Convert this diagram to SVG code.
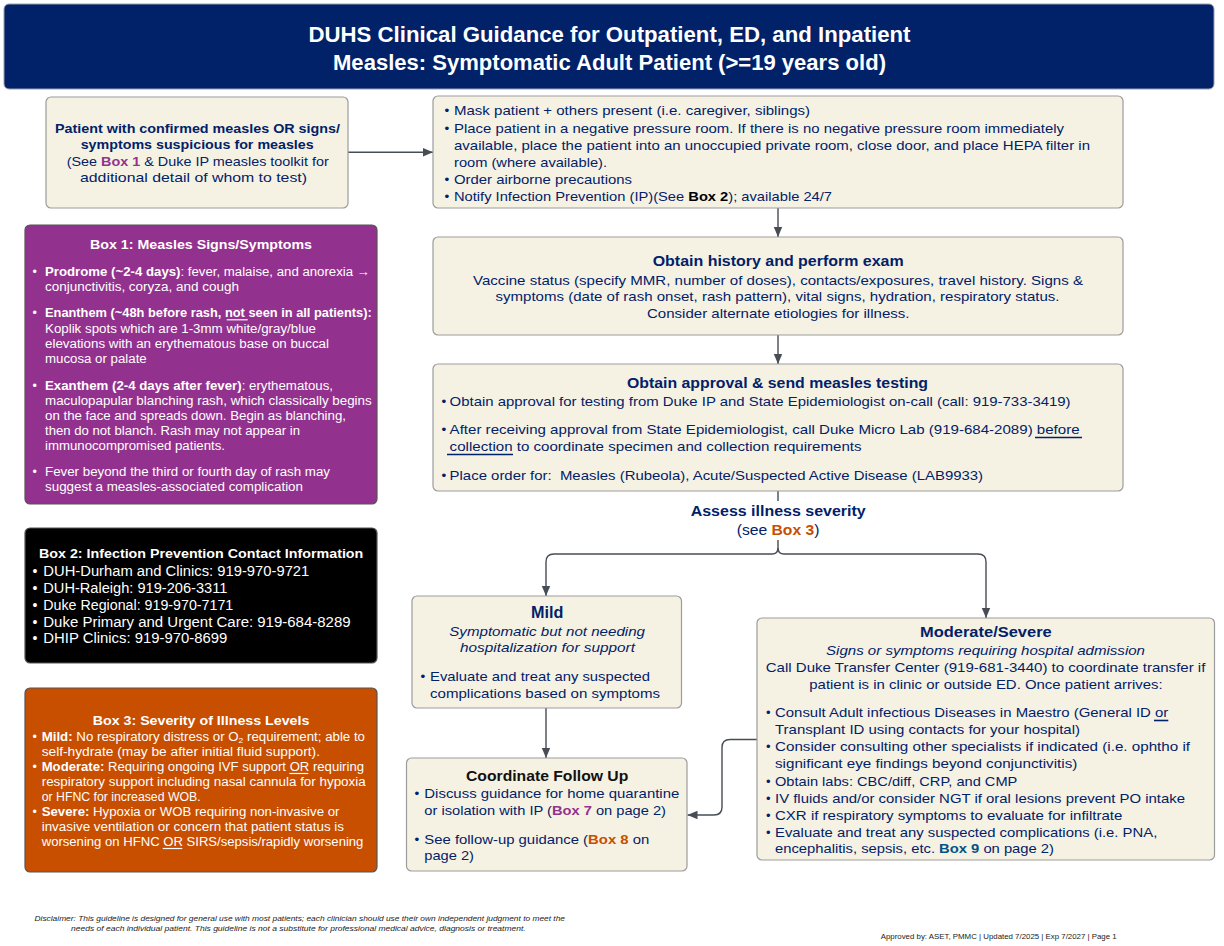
<svg xmlns="http://www.w3.org/2000/svg" width="1224" height="946" viewBox="0 0 1224 946">
<defs>
<style>
text{font-family:"Liberation Sans",Arial,sans-serif;fill:#012169;font-size:13.5px}
.b{font-weight:bold}
.i{font-style:italic}
.w{fill:#ffffff;font-size:12.5px}
.w2{fill:#ffffff;font-size:14px}
.wt{fill:#ffffff;font-size:13.5px;font-weight:bold}
.k{fill:#111111}
.pu{fill:#93328e;font-weight:bold}
.or{fill:#c84e00;font-weight:bold}
.bl{fill:#005587;font-weight:bold}
.bk{fill:#000000;font-weight:bold}
.m{font-size:13px}
.sm{font-size:7.3px;fill:#222222}
.cream{fill:#f6f2e3;stroke:#9c9c9c;stroke-width:1.2}
.dark{stroke:#555555;stroke-width:1.2}
.conn{fill:none;stroke:#474c55;stroke-width:1.4}
.ul{stroke:#012169;stroke-width:1.6}
.ulw{stroke:#ffffff;stroke-width:1.2}
</style>
<marker id="ah" viewBox="0 0 10 10" refX="10" refY="5" markerWidth="10" markerHeight="10" markerUnits="userSpaceOnUse" orient="auto"><path d="M0,0.8 L10,5 L0,9.2 z" fill="#474c55"/></marker>
</defs>
<rect x="0" y="0" width="1224" height="946" fill="#ffffff"/>

<g id="header">
<rect x="4" y="4" width="1210" height="85" rx="5" fill="#012169" stroke="#9aa0b0" stroke-width="1"/>
<text class="b" x="308.5" y="42" style="fill:#fff;font-size:22px" textLength="602" lengthAdjust="spacingAndGlyphs">DUHS Clinical Guidance for Outpatient, ED, and Inpatient</text>
<text class="b" x="333" y="69.5" style="fill:#fff;font-size:22px" textLength="553" lengthAdjust="spacingAndGlyphs">Measles: Symptomatic Adult Patient (&gt;=19 years old)</text>
</g>

<g id="connectors">
<path class="conn" d="M348,152.3 H433" marker-end="url(#ah)"/>
<path class="conn" d="M778,208 V237" marker-end="url(#ah)"/>
<path class="conn" d="M778,335 V364" marker-end="url(#ah)"/>
<path class="conn" d="M778,491 V501"/>
<path class="conn" d="M778,540 V548 Q778,554 772,554 H554 Q546,554 546,562 V596" marker-end="url(#ah)"/>
<path class="conn" d="M778,548 Q778,554 784,554 H978 Q986,554 986,562 V618" marker-end="url(#ah)"/>
<path class="conn" d="M546,708 V758" marker-end="url(#ah)"/>
<path class="conn" d="M757,739.5 H730 Q722,739.5 722,747.5 V807 Q722,815 714,815 H687.5" marker-end="url(#ah)"/>
</g>

<g id="start">
<rect x="46" y="97" width="302" height="111" rx="5" class="cream"/>
<text class="b" x="55" y="132.5" textLength="285" lengthAdjust="spacingAndGlyphs">Patient with confirmed measles OR signs/</text>
<text class="b" x="80.7" y="149" textLength="233" lengthAdjust="spacingAndGlyphs">symptoms suspicious for measles</text>
<text x="66.7" y="165.5" textLength="262" lengthAdjust="spacingAndGlyphs">(See <tspan class="pu">Box 1</tspan> &amp; Duke IP measles toolkit for</text>
<text x="80" y="182" textLength="227" lengthAdjust="spacingAndGlyphs">additional detail of whom to test)</text>
</g>

<g id="isolate">
<rect x="433" y="96" width="690" height="112" rx="5" class="cream"/>
<text x="444.5" y="115">•</text>
<text x="454" y="115" textLength="356" lengthAdjust="spacingAndGlyphs">Mask patient + others present (i.e. caregiver, siblings)</text>
<text x="444.5" y="132.5">•</text>
<text x="454" y="132.5" textLength="610" lengthAdjust="spacingAndGlyphs">Place patient in a negative pressure room. If there is no negative pressure room immediately</text>
<text x="454" y="149.5" textLength="636" lengthAdjust="spacingAndGlyphs">available, place the patient into an unoccupied private room, close door, and place HEPA filter in</text>
<text x="454" y="166.5" textLength="153" lengthAdjust="spacingAndGlyphs">room (where available).</text>
<text x="444.5" y="184">•</text>
<text x="454" y="184" textLength="178" lengthAdjust="spacingAndGlyphs">Order airborne precautions</text>
<text x="444.5" y="200.5">•</text>
<text x="454" y="200.5" textLength="378" lengthAdjust="spacingAndGlyphs">Notify Infection Prevention (IP)(See <tspan class="bk">Box 2</tspan>); available 24/7</text>
</g>

<g id="history">
<rect x="433" y="237" width="690" height="98" rx="5" class="cream"/>
<text class="b" x="652.7" y="266" style="font-size:15px" textLength="251" lengthAdjust="spacingAndGlyphs">Obtain history and perform exam</text>
<text x="473" y="284.5" textLength="610" lengthAdjust="spacingAndGlyphs">Vaccine status (specify MMR, number of doses), contacts/exposures, travel history. Signs &amp;</text>
<text x="495.5" y="301" textLength="564" lengthAdjust="spacingAndGlyphs">symptoms (date of rash onset, rash pattern), vital signs, hydration, respiratory status.</text>
<text x="647" y="317.5" textLength="262.5" lengthAdjust="spacingAndGlyphs">Consider alternate etiologies for illness.</text>
</g>

<g id="testing">
<rect x="433" y="364" width="690" height="127" rx="5" class="cream"/>
<text class="b" x="627" y="388" style="font-size:15px" textLength="301" lengthAdjust="spacingAndGlyphs">Obtain approval &amp; send measles testing</text>
<text x="441.5" y="406">•</text>
<text x="449.6" y="406" textLength="621" lengthAdjust="spacingAndGlyphs">Obtain approval for testing from Duke IP and State Epidemiologist on-call (call: 919-733-3419)</text>
<text x="441.5" y="434">•</text>
<text x="449.6" y="434" textLength="630" lengthAdjust="spacingAndGlyphs">After receiving approval from State Epidemiologist, call Duke Micro Lab (919-684-2089) before</text>
<text x="449.6" y="451" textLength="412" lengthAdjust="spacingAndGlyphs">collection to coordinate specimen and collection requirements</text>
<line class="ul" x1="1035" y1="437.5" x2="1082" y2="437.5"/>
<line class="ul" x1="447" y1="454.5" x2="513" y2="454.5"/>
<text x="441.5" y="479.5">•</text>
<text x="449.6" y="479.5" textLength="533.5" lengthAdjust="spacingAndGlyphs">Place order for:&#160; Measles (Rubeola), Acute/Suspected Active Disease (LAB9933)</text>
</g>

<g id="assess">
<text class="b" x="690.7" y="516" style="font-size:14.5px" textLength="175" lengthAdjust="spacingAndGlyphs">Assess illness severity</text>
<text x="736.7" y="535" style="font-size:14px" textLength="82.7" lengthAdjust="spacingAndGlyphs">(see <tspan class="or">Box 3</tspan>)</text>
</g>

<g id="box1">
<rect x="25" y="225" width="352" height="279" rx="5" fill="#93328e" class="dark"/>
<text class="wt" x="90" y="248.5" textLength="222" lengthAdjust="spacingAndGlyphs">Box 1: Measles Signs/Symptoms</text>
<text class="w" x="32.5" y="276">•</text>
<text class="w" x="45" y="276" textLength="325" lengthAdjust="spacingAndGlyphs"><tspan font-weight="bold">Prodrome (~2-4 days)</tspan>: fever, malaise, and anorexia →</text>
<text class="w" x="45" y="291" textLength="194" lengthAdjust="spacingAndGlyphs">conjunctivitis, coryza, and cough</text>
<text class="w" x="32.5" y="317">•</text>
<text class="w b" x="45" y="317" textLength="326.7" lengthAdjust="spacingAndGlyphs">Enanthem (~48h before rash, not seen in all patients):</text>
<line class="ulw" x1="226.7" y1="319.8" x2="247.7" y2="319.8"/>
<text class="w" x="45" y="332.5" textLength="271" lengthAdjust="spacingAndGlyphs">Koplik spots which are 1-3mm white/gray/blue</text>
<text class="w" x="45" y="347.5" textLength="284" lengthAdjust="spacingAndGlyphs">elevations with an erythematous base on buccal</text>
<text class="w" x="45" y="362.5" textLength="101.7" lengthAdjust="spacingAndGlyphs">mucosa or palate</text>
<text class="w" x="32.5" y="389.5">•</text>
<text class="w" x="45" y="389.5" textLength="288" lengthAdjust="spacingAndGlyphs"><tspan font-weight="bold">Exanthem (2-4 days after fever)</tspan>: erythematous,</text>
<text class="w" x="45" y="404.5" textLength="326.7" lengthAdjust="spacingAndGlyphs">maculopapular blanching rash, which classically begins</text>
<text class="w" x="45" y="419.5" textLength="301" lengthAdjust="spacingAndGlyphs">on the face and spreads down. Begin as blanching,</text>
<text class="w" x="45" y="434.5" textLength="255" lengthAdjust="spacingAndGlyphs">then do not blanch. Rash may not appear in</text>
<text class="w" x="45" y="450" textLength="180" lengthAdjust="spacingAndGlyphs">immunocompromised patients.</text>
<text class="w" x="32.5" y="476">•</text>
<text class="w" x="45" y="476" textLength="285" lengthAdjust="spacingAndGlyphs">Fever beyond the third or fourth day of rash may</text>
<text class="w" x="45" y="491" textLength="258" lengthAdjust="spacingAndGlyphs">suggest a measles-associated complication</text>
</g>

<g id="box2">
<rect x="25" y="528" width="352" height="135" rx="5" fill="#000000" class="dark"/>
<text class="wt" x="39" y="558" textLength="324.3" lengthAdjust="spacingAndGlyphs">Box 2: Infection Prevention Contact Information</text>
<text class="w2" x="32.5" y="575.5">•</text>
<text class="w2" x="43.3" y="575.5" textLength="266" lengthAdjust="spacingAndGlyphs">DUH-Durham and Clinics: 919-970-9721</text>
<text class="w2" x="32.5" y="593">•</text>
<text class="w2" x="43.3" y="593" textLength="184" lengthAdjust="spacingAndGlyphs">DUH-Raleigh: 919-206-3311</text>
<text class="w2" x="32.5" y="610">•</text>
<text class="w2" x="43.3" y="610" textLength="190" lengthAdjust="spacingAndGlyphs">Duke Regional: 919-970-7171</text>
<text class="w2" x="32.5" y="626.5">•</text>
<text class="w2" x="43.3" y="626.5" textLength="307.3" lengthAdjust="spacingAndGlyphs">Duke Primary and Urgent Care: 919-684-8289</text>
<text class="w2" x="32.5" y="643">•</text>
<text class="w2" x="43.3" y="643" textLength="184" lengthAdjust="spacingAndGlyphs">DHIP Clinics: 919-970-8699</text>
</g>

<g id="box3">
<rect x="25" y="688" width="352" height="184" rx="5" fill="#c84e00" class="dark"/>
<text class="wt" x="92.7" y="724.5" textLength="216.7" lengthAdjust="spacingAndGlyphs">Box 3: Severity of Illness Levels</text>
<text class="w" x="32.5" y="740.5">•</text>
<text class="w" x="41.7" y="740.5" textLength="323.3" lengthAdjust="spacingAndGlyphs"><tspan font-weight="bold">Mild:</tspan> No respiratory distress or O<tspan font-size="8" dy="2.5">2</tspan><tspan dy="-2.5"> requirement; able to</tspan></text>
<text class="w" x="41.7" y="755.5" textLength="278.3" lengthAdjust="spacingAndGlyphs">self-hydrate (may be after initial fluid support).</text>
<text class="w" x="32.5" y="771">•</text>
<text class="w" x="41.7" y="771" textLength="322.3" lengthAdjust="spacingAndGlyphs"><tspan font-weight="bold">Moderate:</tspan> Requiring ongoing IVF support OR requiring</text>
<line class="ulw" x1="289.3" y1="773.5" x2="308.3" y2="773.5"/>
<text class="w" x="41.7" y="786" textLength="324" lengthAdjust="spacingAndGlyphs">respiratory support including nasal cannula for hypoxia</text>
<text class="w" x="41.7" y="801" textLength="159" lengthAdjust="spacingAndGlyphs">or HFNC for increased WOB.</text>
<text class="w" x="32.5" y="816">•</text>
<text class="w" x="41.7" y="816" textLength="297.7" lengthAdjust="spacingAndGlyphs"><tspan font-weight="bold">Severe:</tspan> Hypoxia or WOB requiring non-invasive or</text>
<text class="w" x="41.7" y="831" textLength="302.3" lengthAdjust="spacingAndGlyphs">invasive ventilation or concern that patient status is</text>
<text class="w" x="41.7" y="846" textLength="321.7" lengthAdjust="spacingAndGlyphs">worsening on HFNC OR SIRS/sepsis/rapidly worsening</text>
<line class="ulw" x1="162.7" y1="848.5" x2="182.3" y2="848.5"/>
</g>

<g id="mild">
<rect x="412" y="596" width="269.5" height="112" rx="5" class="cream"/>
<text class="b" x="531" y="618" style="font-size:16px" textLength="32.3" lengthAdjust="spacingAndGlyphs">Mild</text>
<text class="i" x="449.3" y="635.5" textLength="195.7" lengthAdjust="spacingAndGlyphs">Symptomatic but not needing</text>
<text class="i" x="460" y="652" textLength="175" lengthAdjust="spacingAndGlyphs">hospitalization for support</text>
<text x="420.5" y="680.5">•</text>
<text x="430" y="680.5" textLength="220" lengthAdjust="spacingAndGlyphs">Evaluate and treat any suspected</text>
<text x="430" y="697.5" textLength="230" lengthAdjust="spacingAndGlyphs">complications based on symptoms</text>
</g>

<g id="followup">
<rect x="406.5" y="758" width="280.5" height="113" rx="5" class="cream"/>
<text class="b k" x="466" y="780.5" style="font-size:15px" textLength="162.3" lengthAdjust="spacingAndGlyphs">Coordinate Follow Up</text>
<text x="414.5" y="798">•</text>
<text x="424.3" y="798" textLength="255" lengthAdjust="spacingAndGlyphs">Discuss guidance for home quarantine</text>
<text x="424.3" y="814.5" textLength="241.7" lengthAdjust="spacingAndGlyphs">or isolation with IP (<tspan class="pu">Box 7</tspan> on page 2)</text>
<text x="414.5" y="843.5">•</text>
<text x="424.3" y="843.5" textLength="225" lengthAdjust="spacingAndGlyphs">See follow-up guidance (<tspan class="or">Box 8</tspan> on</text>
<text x="424.3" y="860" textLength="49.7" lengthAdjust="spacingAndGlyphs">page 2)</text>
</g>

<g id="moderate">
<rect x="757" y="618" width="457.5" height="242" rx="5" class="cream"/>
<text class="b" x="920" y="637" style="font-size:15px" textLength="131.7" lengthAdjust="spacingAndGlyphs">Moderate/Severe</text>
<text class="i" x="826" y="654.5" textLength="319" lengthAdjust="spacingAndGlyphs">Signs or symptoms requiring hospital admission</text>
<text x="765.7" y="672" textLength="439.7" lengthAdjust="spacingAndGlyphs">Call Duke Transfer Center (919-681-3440) to coordinate transfer if</text>
<text x="809.3" y="688.5" textLength="353.3" lengthAdjust="spacingAndGlyphs">patient is in clinic or outside ED. Once patient arrives:</text>
<text class="m" x="766" y="717">•</text>
<text class="m" x="775" y="717" textLength="393.3" lengthAdjust="spacingAndGlyphs">Consult Adult infectious Diseases in Maestro (General ID or</text>
<line class="ul" x1="1154" y1="720.5" x2="1168.3" y2="720.5"/>
<text class="m" x="775" y="734" textLength="305" lengthAdjust="spacingAndGlyphs">Transplant ID using contacts for your hospital)</text>
<text class="m" x="766" y="750.5">•</text>
<text class="m" x="775" y="750.5" textLength="415" lengthAdjust="spacingAndGlyphs">Consider consulting other specialists if indicated (i.e. ophtho if</text>
<text class="m" x="775" y="768" textLength="302.3" lengthAdjust="spacingAndGlyphs">significant eye findings beyond conjunctivitis)</text>
<text class="m" x="766" y="785.5">•</text>
<text class="m" x="775" y="785.5" textLength="242.3" lengthAdjust="spacingAndGlyphs">Obtain labs: CBC/diff, CRP, and CMP</text>
<text class="m" x="766" y="802.5">•</text>
<text class="m" x="775" y="802.5" textLength="410" lengthAdjust="spacingAndGlyphs">IV fluids and/or consider NGT if oral lesions prevent PO intake</text>
<text class="m" x="766" y="819.5">•</text>
<text class="m" x="775" y="819.5" textLength="347.3" lengthAdjust="spacingAndGlyphs">CXR if respiratory symptoms to evaluate for infiltrate</text>
<text class="m" x="766" y="836.5">•</text>
<text class="m" x="775" y="836.5" textLength="382.3" lengthAdjust="spacingAndGlyphs">Evaluate and treat any suspected complications (i.e. PNA,</text>
<text class="m" x="775" y="853" textLength="279" lengthAdjust="spacingAndGlyphs">encephalitis, sepsis, etc. <tspan class="bl">Box 9</tspan> on page 2)</text>
</g>

<g id="footer">
<text class="sm i" x="34.5" y="920.5" textLength="530.5" lengthAdjust="spacingAndGlyphs">Disclaimer: This guideline is designed for general use with most patients; each clinician should use their own independent judgment to meet the</text>
<text class="sm i" x="71" y="930.5" textLength="454.7" lengthAdjust="spacingAndGlyphs">needs of each individual patient. This guideline is not a substitute for professional medical advice, diagnosis or treatment.</text>
<text class="sm" x="880.7" y="938.5" textLength="236" lengthAdjust="spacingAndGlyphs">Approved by: ASET, PMMC | Updated 7/2025 | Exp 7/2027 | Page 1</text>
</g>
</svg>
